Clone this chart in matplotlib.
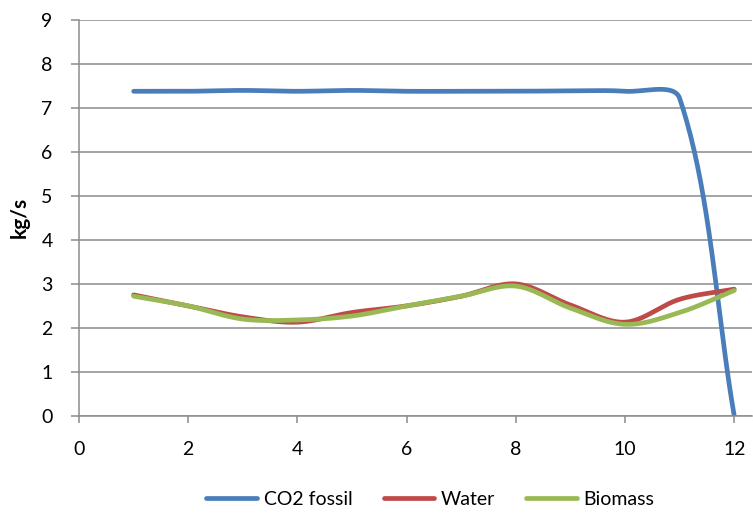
import numpy as np
import matplotlib.pyplot as plt

# data
x_vals = [1, 2, 3, 4, 5, 6, 7, 8, 9, 10, 11, 12]
co2_fossil = [7.38, 7.38, 7.40, 7.38, 7.40, 7.38, 7.38, 7.38, 7.39, 7.38, 7.22, 0.0]
water = [2.75, 2.50, 2.25, 2.13, 2.35, 2.50, 2.72, 3.00, 2.52, 2.13, 2.65, 2.88]
biomass = [2.72, 2.50, 2.20, 2.18, 2.27, 2.50, 2.72, 2.95, 2.45, 2.08, 2.35, 2.85]

series_names = ['CO2 fossil', 'Water', 'Biomass']
series_colors = ['#4A7EBB', '#BE4B48', '#98B954']

plt.rcParams['font.family'] = ['Lato', 'DejaVu Sans']

# px per data unit, so the smoothing works in screen space like Excel
SX, SY = 54.5, 44.0


def smooth(xs, ys, n=40):
    # Excel-like smoothed line: cubic Bezier, tangents scaled by chord length
    P = np.column_stack([np.asarray(xs, float) * SX, np.asarray(ys, float) * SY])
    P = np.vstack([P[0], P, P[-1]])
    t = np.linspace(0, 1, n)[:, None]
    out = []
    for i in range(1, len(P) - 2):
        p0, p1, p2, p3 = P[i - 1], P[i], P[i + 1], P[i + 2]
        d01 = np.linalg.norm(p1 - p0)
        d12 = np.linalg.norm(p2 - p1)
        d23 = np.linalg.norm(p3 - p2)
        f1 = d12 / (d01 + d12) if d01 + d12 > 0 else 0
        f2 = d12 / (d12 + d23) if d12 + d23 > 0 else 0
        c1 = p1 + (p2 - p0) * f1 / 3
        c2 = p2 - (p3 - p1) * f2 / 3
        b = ((1 - t) ** 3) * p1 + 3 * ((1 - t) ** 2) * t * c1 + 3 * (1 - t) * t ** 2 * c2 + t ** 3 * p2
        out.append(b if i == 1 else b[1:])
    out = np.vstack(out)
    return out[:, 0] / SX, out[:, 1] / SY


fig = plt.figure(figsize=(7.53, 5.14), dpi=100)
ax = fig.add_axes([0.105, 0.191, 0.894, 0.770])

for ys, name, col in zip([co2_fossil, water, biomass], series_names, series_colors):
    sx, sy = smooth(x_vals, ys)
    ax.plot(sx, sy, color=col, lw=3.4, label=name, solid_capstyle='round')

ax.set_xlim(0, 12.33)
ax.set_ylim(0, 9)
ax.set_xticks(range(0, 13, 2))
ax.set_yticks(range(0, 10))
ax.grid(axis='y', color='#8C8C8C', lw=1.1)
ax.set_axisbelow(True)
for s in ['top', 'right']:
    ax.spines[s].set_visible(False)
for s in ['left', 'bottom']:
    ax.spines[s].set_color('#8C8C8C')
    ax.spines[s].set_linewidth(1.1)
ax.tick_params(axis='y', length=6, color='#8C8C8C', width=1.1, labelsize=14, pad=13)
ax.tick_params(axis='x', length=5, color='#8C8C8C', width=1.1, labelsize=14, pad=13)
ax.set_ylabel('kg/s', fontsize=15, fontweight='bold', labelpad=8)

ax.legend(loc='center', bbox_to_anchor=(0.522, -0.212), ncol=3, frameon=False,
          fontsize=14, handlelength=2.6, handletextpad=0.35, columnspacing=1.6)

fig.savefig('out.png', dpi=100)
